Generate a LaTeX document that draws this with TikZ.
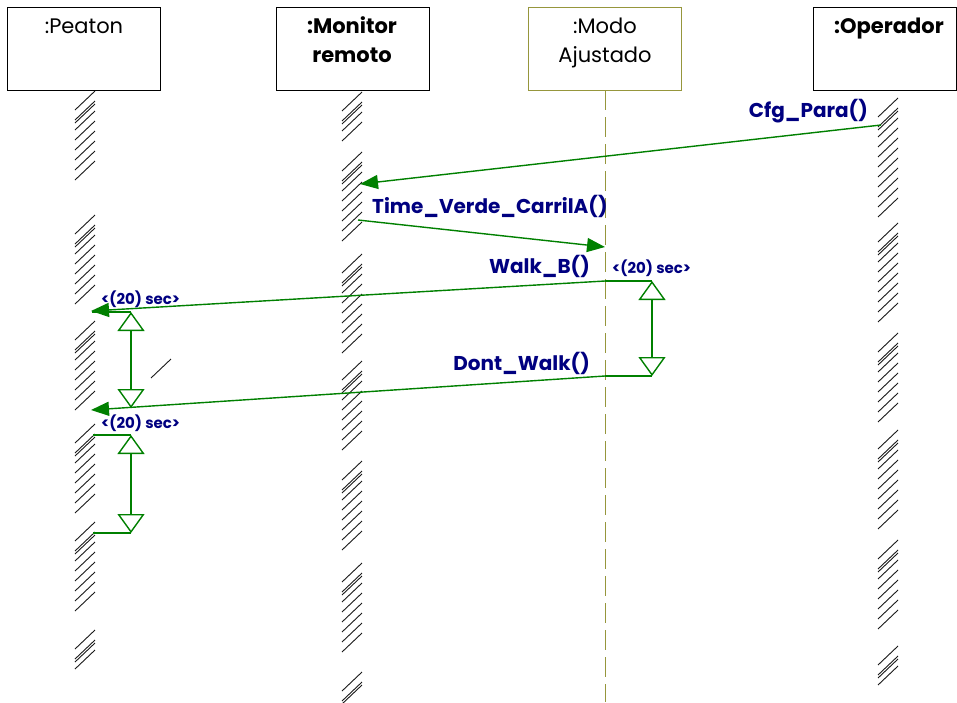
\documentclass[tikz,border=0pt]{standalone}
\usepackage{fontspec}
\setmainfont{Poppins}
\usetikzlibrary{arrows.meta}
\definecolor{msggreen}{RGB}{0,128,0}
\definecolor{lblnavy}{RGB}{0,0,128}
\definecolor{modoolive}{RGB}{150,150,60}

% hatched lifeline: #1 = x of the lifeline, #2 = list of top/bottom pairs of stroke groups
\newcommand\hatchgroups[2]{%
  \foreach \ga/\gb in {#2}{%
    \pgfmathsetmacro\ys{\ga+19}%
    \pgfmathsetmacro\yt{\ga+29}%
    \foreach \y in {\ys,\yt,...,\gb}{\draw[hatch] (#1-10,\y) -- (#1+10,\y-19);}
    \draw[hatch] (#1-10,\ys+13) -- (#1+10,\ys-6);
  }}

\begin{document}
\begin{tikzpicture}[x=1pt,y=-1pt,
  objbox/.style={draw=black,line width=1.3pt,minimum width=153pt,minimum height=83pt,inner sep=0pt,anchor=north west},
  modobox/.style={objbox,draw=modoolive},
  title/.style={anchor=base,inner sep=0pt,font=\fontsize{21}{24}\selectfont},
  btitle/.style={title,font=\fontsize{21}{24}\selectfont\bfseries},
  msglabel/.style={inner sep=0pt,text=lblnavy,font=\fontsize{20}{23}\selectfont\bfseries},
  timelabel/.style={inner sep=0pt,anchor=base west,text=lblnavy,font=\fontsize{15}{17}\selectfont\bfseries},
  hatch/.style={draw=black!90,line width=0.9pt},
  msg/.style={draw=msggreen,line width=1.4pt,-{Triangle[length=18pt,width=14pt]}},
  tick/.style={draw=msggreen,line width=1.4pt},
  span/.style={draw=msggreen,line width=1.4pt,{Triangle[open,length=19pt,width=27pt]}-{Triangle[open,length=19pt,width=27pt]}}
]
\useasboundingbox (0,0) rectangle (957,702);

% object boxes
\node[objbox] (peaton) at (7,7) {};
\node[objbox] (monitor) at (276,7) {};
\node[modobox] (modo) at (528,7) {};
\node[objbox,minimum width=143pt] (operador) at (813,7) {};

\node[title] (tpeaton) at (84,33) {:Peaton};
\node[btitle] (tmonitor1) at (352,33) {:Monitor};
\node[btitle] (tmonitor2) at (352,62) {remoto};
\node[title] (tmodo1) at (605,33) {:Modo};
\node[title] (tmodo2) at (605,62) {Ajustado};
\node[btitle] (toperador) at (889,33) {:Operador};

% lifelines
\hatchgroups{85}{91/181, 215/313, 321/416, 424/514, 522/620, 630/676}
\hatchgroups{352}{92/143, 152/246, 254/353, 361/455, 461/557, 563/660, 672/693}
\hatchgroups{888}{98/217, 223/325, 333/426, 430/532, 540/634, 646/687}
\draw[hatch] (151,378) -- (171,359);

\coordinate (modotop) at (605,90);
\coordinate (modoend) at (605,702);
\draw[modoolive,line width=1pt,dash pattern=on 20pt off 7pt] (modotop) -- (modoend);

% message end points
\coordinate (op1) at (881,125);
\coordinate (mon1) at (360,184);
\coordinate (mon2) at (358,220);
\coordinate (modo2) at (605,247);
\coordinate (modo3) at (605,281);
\coordinate (pea3) at (91,311);
\coordinate (modo4) at (605,376);
\coordinate (pea4) at (91,410);

% messages
\draw[msg] (op1) -- (mon1);
\draw[msg] (mon2) -- (modo2);
\draw[msg] (modo3) -- (pea3);
\draw[msg] (modo4) -- (pea4);

\node[msglabel,anchor=base east] (lcfg) at (868,117) {Cfg\_Para()};
\node[msglabel,anchor=base west] (ltime) at (372,213) {Time\_Verde\_CarrilA()};
\node[msglabel,anchor=base east] (lwalk) at (590,273) {Walk\_B()};
\node[msglabel,anchor=base east] (ldont) at (590,370) {Dont\_Walk()};

% timing constraint on the adjusted mode
\coordinate (ta) at (652,281);
\coordinate (tb) at (652,376);
\draw[tick] (modo3) -- (ta);
\draw[tick] (modo4) -- (tb);
\draw[span] (ta) -- (tb);
\node[timelabel] (lta) at (612,273) {<(20) sec>};

% first timing constraint on the pedestrian
\coordinate (pa) at (131,312);
\coordinate (pb) at (131,408);
\coordinate (pa0) at (92,312);
\draw[tick] (pa0) -- (pa);
\draw[span] (pa) -- (pb);
\node[timelabel] (lpa) at (101,304) {<(20) sec>};

% second timing constraint on the pedestrian
\coordinate (qa) at (131,435);
\coordinate (qb) at (131,533);
\coordinate (qa0) at (93,435);
\coordinate (qb0) at (93,533);
\draw[tick] (qa0) -- (qa);
\draw[tick] (qb0) -- (qb);
\draw[span] (qa) -- (qb);
\node[timelabel] (lqa) at (101,428) {<(20) sec>};
\end{tikzpicture}
\end{document}
